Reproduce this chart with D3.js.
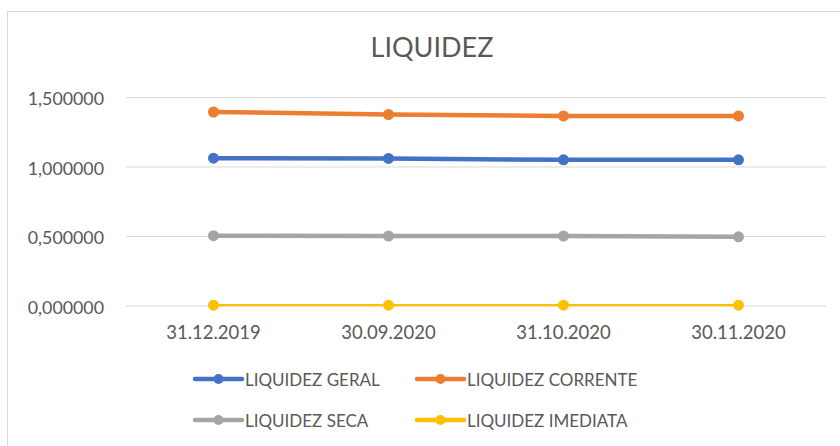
<!DOCTYPE html>
<html><head><meta charset="utf-8">
<script src="https://cdn.jsdelivr.net/npm/d3@7"></script>
<style>body{margin:0;background:#fff;}svg{display:block;font-family:Lato,"Open Sans",sans-serif;}</style>
</head><body><svg id="c" width="840" height="446"></svg>
<script>
const categories = ["31.12.2019","30.09.2020","31.10.2020","30.11.2020"];
const seriesNames = ["LIQUIDEZ GERAL","LIQUIDEZ CORRENTE","LIQUIDEZ SECA","LIQUIDEZ IMEDIATA"];
const geral = [1.060, 1.058, 1.048, 1.048];
const corrente = [1.392, 1.374, 1.364, 1.364];
const seca = [0.502, 0.500, 0.500, 0.494];
const imediata = [0.002, 0.002, 0.002, 0.002];
const yTicks = [0, 0.5, 1.0, 1.5];
const colors = ["#4472C4","#ED7D31","#A5A5A5","#FFC000"];
const widths = [4.5, 4.5, 4.5, 2.2];
const allSeries = [geral, corrente, seca, imediata];

const svg = d3.select("#c");
svg.append("rect").attr("x",7.5).attr("y",11.5).attr("width",850).attr("height",450)
  .attr("fill","#fff").attr("stroke","#d9d9d9").attr("stroke-width",1);

const x = d3.scaleBand().domain(categories).range([126,826]);
const y = d3.scaleLinear().domain([0,1.5]).range([305.5,97]);

svg.append("text").attr("x",432).attr("y",57).attr("text-anchor","middle")
  .attr("font-size",27).attr("fill","#595959").text("LIQUIDEZ");

const fmt = v => d3.format(".6f")(v).replace(".",",");
const yAxis = svg.append("g").attr("transform","translate(126,0)")
  .call(d3.axisLeft(y).tickValues(yTicks).tickSize(-700).tickFormat(fmt));
yAxis.select(".domain").remove();
yAxis.selectAll(".tick line").attr("stroke","#d9d9d9");
yAxis.selectAll(".tick text").attr("x",-22).attr("dy","0.44em").attr("fill","#595959")
  .attr("font-size",17.8).attr("font-family","Lato,sans-serif");

const xAxis = svg.append("g").attr("transform","translate(0,305.5)")
  .call(d3.axisBottom(x).tickSize(0));
xAxis.select(".domain").remove();
xAxis.selectAll(".tick text").attr("dy",0).attr("y",33.5).attr("fill","#595959")
  .attr("font-size",18.5).attr("font-family","Lato,sans-serif");

const line = d3.line().x((d,i)=>x(categories[i])+x.bandwidth()/2).y(d=>y(d));
allSeries.forEach((s,k)=>{
  svg.append("path").datum(s).attr("d",line).attr("fill","none")
    .attr("stroke",colors[k]).attr("stroke-width",widths[k]).attr("stroke-linejoin","round");
  svg.selectAll(null).data(s).enter().append("circle")
    .attr("cx",(d,i)=>x(categories[i])+x.bandwidth()/2).attr("cy",d=>y(d))
    .attr("r",5.5).attr("fill",colors[k]);
});

const legendPos = [[195,379],[417,379],[195,420],[417,420]];
seriesNames.forEach((n,k)=>{
  const [lx,ly] = legendPos[k];
  const g = svg.append("g");
  g.append("line").attr("x1",lx).attr("x2",lx+47).attr("y1",ly).attr("y2",ly)
    .attr("stroke",colors[k]).attr("stroke-width",4.5).attr("stroke-linecap","round");
  g.append("circle").attr("cx",lx+23.5).attr("cy",ly).attr("r",5).attr("fill",colors[k]);
  g.append("text").attr("x",lx+50).attr("y",ly+7).attr("font-size",17).attr("fill","#595959").text(n);
});
</script></body></html>
